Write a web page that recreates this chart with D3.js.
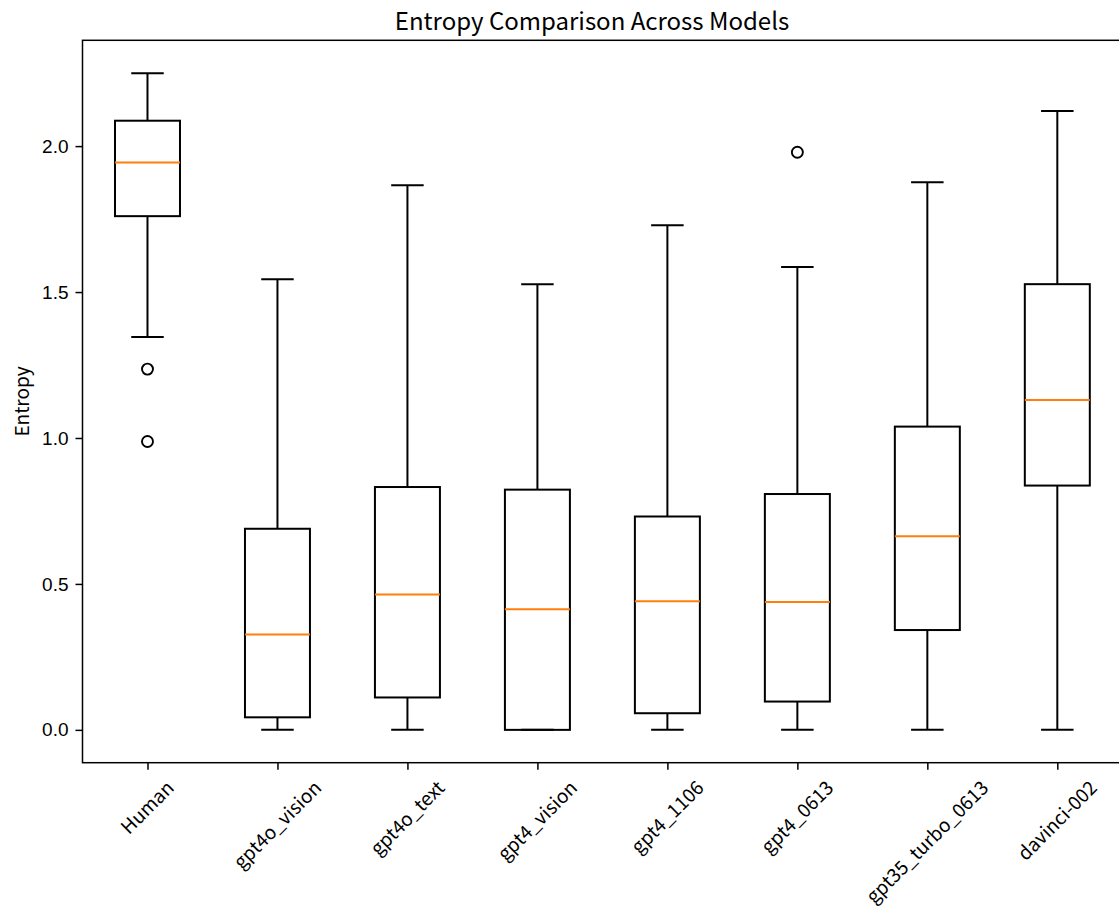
<!DOCTYPE html>
<html>
<head>
<meta charset="utf-8">
<script src="https://cdn.jsdelivr.net/npm/d3@7"></script>
<style>
  body { margin: 0; background: #fff; }
  svg { display: block; font-family: "Noto Sans CJK JP", "Noto Sans", sans-serif; }
</style>
</head>
<body>
<div id="chart"></div>
<script>
const width = 1119;
const height = 915;

// values
const models = ["Human", "gpt4o_vision", "gpt4o_text", "gpt4_vision", "gpt4_1106", "gpt4_0613", "gpt35_turbo_0613", "davinci-002"];
const whiskerLow = [1.346, 0, 0, 0, 0, 0, 0, 0];
const q1 = [1.760, 0.043, 0.111, 0.000, 0.057, 0.097, 0.342, 0.837];
const medians = [1.944, 0.327, 0.464, 0.413, 0.441, 0.438, 0.663, 1.130];
const q3 = [2.087, 0.689, 0.832, 0.823, 0.731, 0.808, 1.039, 1.527];
const whiskerHigh = [2.250, 1.544, 1.866, 1.527, 1.729, 1.586, 1.876, 2.120];
const outliers = [[1.236, 0.988], [], [], [], [], [1.979], [], []];
const yTicks = [0.0, 0.5, 1.0, 1.5, 2.0];

const plot = { left: 82.5, right: 1122.3, top: 40.3, bottom: 762.7 };
const tickFont = 19;

const svg = d3
  .select("#chart")
  .append("svg")
  .attr("width", width)
  .attr("height", height);

const x = d3.scaleLinear().domain([0.5, models.length + 0.5]).range([plot.left, plot.right]);
const y = d3.scaleLinear().domain([-0.1125, 2.3625]).range([plot.bottom, plot.top]);

const boxes = models.map((m, i) => ({
  name: m,
  pos: i + 1,
  lo: whiskerLow[i],
  q1: q1[i],
  med: medians[i],
  q3: q3[i],
  hi: whiskerHigh[i],
  fliers: outliers[i],
}));

const g = svg.append("g");
const boxHalf = 0.25;
const capHalf = 0.125;

const bx = g.selectAll("g.box").data(boxes).join("g").attr("class", "box");

// whiskers
bx.append("line")
  .attr("x1", (d) => x(d.pos)).attr("x2", (d) => x(d.pos))
  .attr("y1", (d) => y(d.q1)).attr("y2", (d) => y(d.lo))
  .attr("stroke", "#000").attr("stroke-width", 2);
bx.append("line")
  .attr("x1", (d) => x(d.pos)).attr("x2", (d) => x(d.pos))
  .attr("y1", (d) => y(d.q3)).attr("y2", (d) => y(d.hi))
  .attr("stroke", "#000").attr("stroke-width", 2);

// caps
["lo", "hi"].forEach((k) => {
  bx.append("line")
    .attr("x1", (d) => x(d.pos - capHalf)).attr("x2", (d) => x(d.pos + capHalf))
    .attr("y1", (d) => y(d[k])).attr("y2", (d) => y(d[k]))
    .attr("stroke", "#000").attr("stroke-width", 2);
});

// boxes
bx.append("rect")
  .attr("x", (d) => x(d.pos - boxHalf))
  .attr("width", (d) => x(d.pos + boxHalf) - x(d.pos - boxHalf))
  .attr("y", (d) => y(d.q3))
  .attr("height", (d) => y(d.q1) - y(d.q3))
  .attr("fill", "none").attr("stroke", "#000").attr("stroke-width", 2);

// medians
bx.append("line")
  .attr("x1", (d) => x(d.pos - boxHalf)).attr("x2", (d) => x(d.pos + boxHalf))
  .attr("y1", (d) => y(d.med)).attr("y2", (d) => y(d.med))
  .attr("stroke", "#ff7f0e").attr("stroke-width", 2);

// fliers
bx.selectAll("circle")
  .data((d) => d.fliers.map((v) => ({ pos: d.pos, v })))
  .join("circle")
  .attr("cx", (d) => x(d.pos)).attr("cy", (d) => y(d.v))
  .attr("r", 5.5).attr("fill", "none").attr("stroke", "#000").attr("stroke-width", 1.9);

// y axis
const yAxis = svg.append("g")
  .attr("transform", `translate(${plot.left},0)`)
  .call(d3.axisLeft(y).tickValues(yTicks).tickFormat(d3.format(".1f")).tickSize(7).tickPadding(7));
yAxis.select(".domain").remove();
yAxis.selectAll("line").attr("stroke", "#000").attr("stroke-width", 1.5);
yAxis.selectAll("text").attr("font-size", tickFont).attr("fill", "#000").attr("font-family", null);

// x axis ticks
const xAxis = svg.append("g")
  .attr("transform", `translate(0,${plot.bottom})`)
  .call(d3.axisBottom(x).tickValues(d3.range(1, models.length + 1)).tickFormat("").tickSize(7));
xAxis.select(".domain").remove();
xAxis.selectAll("line").attr("stroke", "#000").attr("stroke-width", 1.5);

// rotated labels, bbox centred under tick, top at pad
const labelTop = plot.bottom + 7 + 7;
const lbl = svg.append("g").selectAll("text").data(models).join("text")
  .attr("font-size", tickFont)
  .attr("text-anchor", "middle")
  .attr("dy", "0.35em")
  .attr("fill", "#000")
  .text((d) => d);
lbl.attr("transform", function (d, i) {
  const L = this.getComputedTextLength();
  const H = tickFont * 1.15;
  const half = (L + H) / (2 * Math.SQRT2);
  return `translate(${x(i + 1)},${labelTop + half}) rotate(-45)`;
});

// frame
svg.append("rect")
  .attr("x", plot.left).attr("y", plot.top)
  .attr("width", plot.right - plot.left).attr("height", plot.bottom - plot.top)
  .attr("fill", "none").attr("stroke", "#000").attr("stroke-width", 1.5);

// title + label
svg.append("text")
  .attr("x", 592).attr("y", 30)
  .attr("text-anchor", "middle")
  .attr("font-size", 24)
  .attr("fill", "#000")
  .text("Entropy Comparison Across Models");

svg.append("text")
  .attr("transform", `translate(29,${(plot.top + plot.bottom) / 2}) rotate(-90)`)
  .attr("text-anchor", "middle")
  .attr("font-size", tickFont)
  .attr("fill", "#000")
  .text("Entropy");
</script>
</body>
</html>
